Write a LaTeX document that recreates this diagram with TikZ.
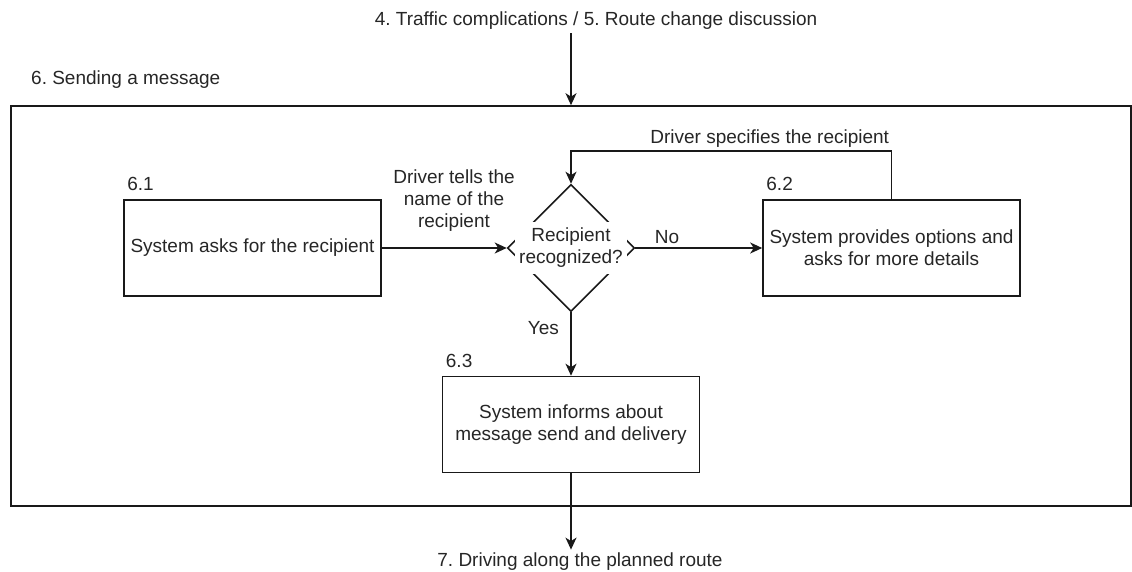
\documentclass[tikz,border=0pt]{standalone}
\usepackage{fontspec}
\setmainfont{Liberation Sans}
\usetikzlibrary{arrows.meta,shapes.geometric,positioning}
\frenchspacing

\begin{document}
\begin{tikzpicture}[x=1pt,y=-1pt,
		font=\fontsize{19}{22}\selectfont, text=black!85,
		line/.style={draw=black!90, line width=1.6pt},
		arr/.style={line, -{Stealth[length=12pt,width=11pt,inset=3.5pt]}},
		stepbox/.style={line, rectangle, minimum width=257pt, minimum height=96pt, align=center, inner sep=0pt},
		decision/.style={line, diamond, minimum width=127pt, minimum height=127pt, inner sep=0pt},
		num/.style={anchor=south west, inner sep=0pt, xshift=4pt, yshift=8pt}]
	\useasboundingbox (0,0) rectangle (1132,572);
	
	% Frame
	\node[line, rectangle, minimum width=1120pt, minimum height=400pt, inner sep=0pt] (frame) at (571,306) {};
	\node[anchor=west, inner sep=0pt] (title) at (31,80) {6. Sending a message};
	
	% Outside steps
	\node (prev) at (596,21) {4. Traffic complications / 5. Route change discussion};
	\node (next) at (580,562) {7. Driving along the planned route};
	
	% Steps
	\node[stepbox] (ask) at (252.5,248) {System asks for the recipient};
	\node[decision] (rec) at (571,248) {};
	\node[fill=white, inner xsep=4pt, inner ysep=6pt, align=center] (rectxt) at (rec) {Recipient\\recognized?};
	\node[stepbox] (opts) at (891.5,248) {System provides options and\\asks for more details};
	\node[stepbox] (inform) at (571,424.5) {System informs about\\message send and delivery};
	
	% Numbers
	\foreach \b/\t in {ask/6.1, opts/6.2, inform/6.3}
		\node[num] (num-\b) at (\b.north west) {\t};
	
	% Arrows
	\draw[arr] (frame.north |- prev.south) -- (frame.north);
	\draw[arr] (inform.south) -- (inform.south |- next.north);
	\node[align=center] (tell) at (454,201) {Driver tells the\\name of the\\recipient};
	\draw[arr] (ask) -- (rec);
	\draw[arr] (rec) -- node[pos=0.25, above] (no) {No} (opts);
	\draw[arr] (rec) -- node[pos=0.25, left=8pt] (yes) {Yes} (inform);
	\draw[arr] (opts.north) -- ++(0,-48) -| node[pos=0.19, above] (spec) {Driver specifies the recipient} (rec.north);
\end{tikzpicture}
\end{document}
